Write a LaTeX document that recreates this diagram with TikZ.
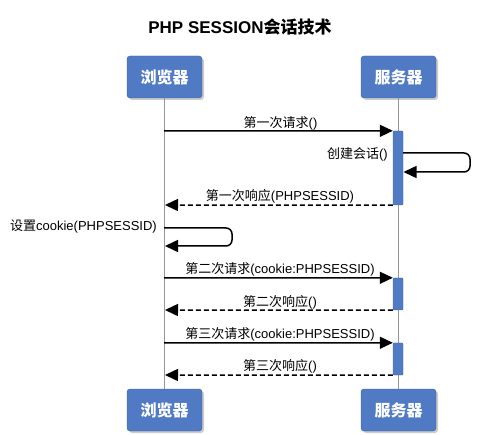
\documentclass[tikz,border=0pt]{standalone}
\usepackage{fontspec}
\setmainfont{Liberation Sans}
\newfontfamily\cjk{Noto Sans CJK SC}
\newcommand\zh[1]{{\cjk #1}}
\usetikzlibrary{arrows.meta,shadows}
\definecolor{boxblue}{RGB}{80,122,196}
\definecolor{lifegray}{RGB}{150,150,150}
\begin{document}
\begin{tikzpicture}[x=1pt,y=-1pt,
 actor/.style={draw=boxblue!80!black, fill=boxblue, rounded corners=3pt, minimum width=75pt, minimum height=42pt, text=white, font=\cjk\bfseries\fontsize{16}{16}\selectfont, drop shadow={shadow xshift=2pt,shadow yshift=-2pt,opacity=0.4}},
 life/.style={draw=lifegray, line width=1.6pt},
 act/.style={fill=boxblue, draw=boxblue!85!black, rounded corners=1pt, minimum width=10pt, inner sep=0pt},
 msg/.style={line width=1.5pt, -{Triangle[length=13pt,width=12pt]}},
 ret/.style={msg, dash pattern=on 5pt off 3pt},
 lbl/.style={font=\fontsize{13}{13}\selectfont, inner sep=0pt}
]
\useasboundingbox (0,0) rectangle (495,435);
\node[font=\bfseries\fontsize{17}{17}\selectfont] (title) at (240,27) {PHP SESSION\zh{会话技术}};

\node[actor] (bt) at (164.5,77) {浏览器};
\node[actor] (st) at (398.5,77) {服务器};
\node[actor] (bb) at (164.5,410) {浏览器};
\node[actor] (sb) at (398.5,410) {服务器};
\draw[life] (bt.south) -- (bb.north);
\draw[life] (st.south) -- (sb.north);

% activations
\node[act, minimum height=74pt] (a1) at (398,168) {};
\node[act, minimum height=32pt] (a2) at (398,294) {};
\node[act, minimum height=32pt] (a3) at (398,359) {};

% coordinates on browser lifeline
\coordinate (r1) at (164,131);
\coordinate (p1) at (165,205);
\coordinate (c1) at (164,228);
\coordinate (c2) at (165,246);
\coordinate (r2) at (164,278);
\coordinate (p2) at (165,310);
\coordinate (r3) at (164,343);
\coordinate (p3) at (165,375);
\coordinate (s1) at (403,153);
\coordinate (s2) at (403.5,172);

\draw[msg] (r1) -- (a1.north west);
\node[lbl] at (280.5,123) {\zh{第一次请求}()};

\draw[msg, rounded corners=6pt] (s1) -- (470,153) -- (470,172) -- (s2);
\node[lbl, anchor=east] at (388,154) {\zh{创建会话}()};

\draw[ret] (a1.south west) -- (p1);
\node[lbl] at (280,196) {\zh{第一次响应}(PHPSESSID)};

\draw[msg, rounded corners=6pt] (c1) -- (232,228) -- (232,246) -- (c2);
\node[lbl, anchor=east] at (157,227) {\zh{设置}cookie(PHPSESSID)};

\draw[msg] (r2) -- (a2.north west);
\node[lbl] at (280,269) {\zh{第二次请求}(cookie:PHPSESSID)};
\draw[ret] (a2.south west) -- (p2);
\node[lbl] at (280,302) {\zh{第二次响应}()};

\draw[msg] (r3) -- (a3.north west);
\node[lbl] at (280,334) {\zh{第三次请求}(cookie:PHPSESSID)};
\draw[ret] (a3.south west) -- (p3);
\node[lbl] at (280,366) {\zh{第三次响应}()};
\end{tikzpicture}
\end{document}
